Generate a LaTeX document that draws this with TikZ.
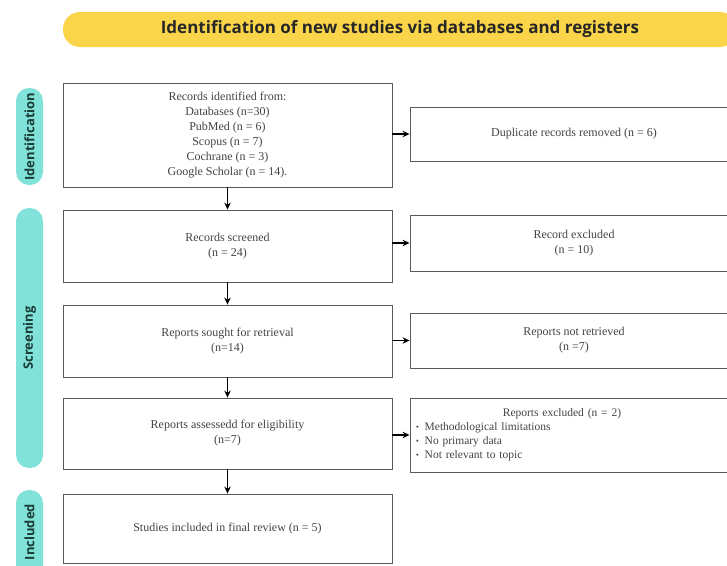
\documentclass[tikz,border=0pt]{standalone}
\usepackage{fontspec}
\setmainfont{Liberation Serif}
\newfontfamily\headfont{Open Sans}
\usetikzlibrary{arrows.meta}
\definecolor{banneryellow}{HTML}{FAD54A}
\definecolor{pillteal}{HTML}{80E2D8}
\definecolor{pilltext}{HTML}{1B3B36}
\definecolor{boxline}{HTML}{5A5A5A}
\definecolor{boxtext}{HTML}{444444}
\tikzset{
  box/.style={draw=boxline, line width=0.9pt, fill=white, align=center, inner sep=0pt,
    text=boxtext, font=\fontsize{12}{15}\selectfont},
  lbox/.style={box, minimum width=329pt},
  rbox/.style={box, minimum width=328pt},
  pill/.style={fill=pillteal, rounded corners=13pt, minimum width=27pt, inner sep=0pt},
  pilllabel/.style={rotate=90, text=pilltext, inner sep=0pt, font=\headfont\bfseries\fontsize{13}{15}\selectfont},
  arr/.style={-{Stealth[length=7pt,width=6.5pt]}, line width=1.5pt, black},
}
\begin{document}
\begin{tikzpicture}[x=1pt,y=-1pt]
\useasboundingbox (0,0) rectangle (727,565);
% banner
\node[fill=banneryellow, rounded corners=17pt, minimum width=674pt, minimum height=35pt,
  inner sep=0pt, text=black!85, font=\headfont\bfseries\fontsize{17}{20}\selectfont]
  (banner) at (400,29.5) {Identification of new studies via databases and registers};
% side pills
\node[pill, minimum height=97pt] (pid) at (29.5,136.5) {};
\node[pilllabel] (tid) at (pid.center) {Identification};
\node[pill, minimum height=260pt] (psc) at (29.5,338) {};
\node[pilllabel] (tsc) at (psc.center) {Screening};
\node[pill, minimum height=90pt] (pin) at (29.5,535) {};
\node[pilllabel] (tin) at (29.5,532) {Included};
% left boxes
\node[lbox, minimum height=104pt] (B1) at (227.5,135)
  {Records identified from:\\Databases (n=30)\\PubMed (n = 6)\\Scopus (n = 7)\\Cochrane (n = 3)\\Google Scholar (n = 14).};
\node[lbox, minimum height=72pt] (B2) at (227.5,246) {Records screened\\(n = 24)};
\node[lbox, minimum height=72pt] (B3) at (227.5,341) {Reports sought for retrieval\\(n=14)};
\node[lbox, minimum height=71pt] (B4) at (227.5,433.5) {Reports assessedd for eligibility\\(n=7)};
\node[lbox, minimum height=69pt] (B5) at (227.5,528.5) {Studies included in final review (n = 5)};
% right boxes
\node[rbox, minimum height=54pt] (R1) at (574,134) {Duplicate records removed (n = 6)};
\node[rbox, minimum height=56pt] (R2) at (574,243) {Record excluded\\(n = 10)};
\node[rbox, minimum height=55pt] (R3) at (574,340.5) {Reports not retrieved\\(n =7)};
\node[rbox, minimum height=74pt, text width=316pt, align=left, font=\fontsize{11.5}{14}\selectfont] (R4) at (574,435)
  {\makebox[292pt][c]{Reports excluded (n = 2)}\\
   \raisebox{0.35ex}{\scalebox{0.45}{$\bullet$}}\hspace{6pt}Methodological limitations\\
   \raisebox{0.35ex}{\scalebox{0.45}{$\bullet$}}\hspace{6pt}No primary data\\
   \raisebox{0.35ex}{\scalebox{0.45}{$\bullet$}}\hspace{6pt}Not relevant to topic};
% arrows
\draw[arr] (B1.south) -- (B2.north);
\draw[arr] (B2.south) -- (B3.north);
\draw[arr] (B3.south) -- (B4.north);
\draw[arr] (B4.south) -- (B5.north);
\draw[arr] (B1.east |- R1) -- (R1.west);
\draw[arr] (B2.east |- R2) -- (R2.west);
\draw[arr] (B3.east |- R3) -- (R3.west);
\draw[arr] (B4.east |- R4) -- (R4.west);
\end{tikzpicture}
\end{document}
